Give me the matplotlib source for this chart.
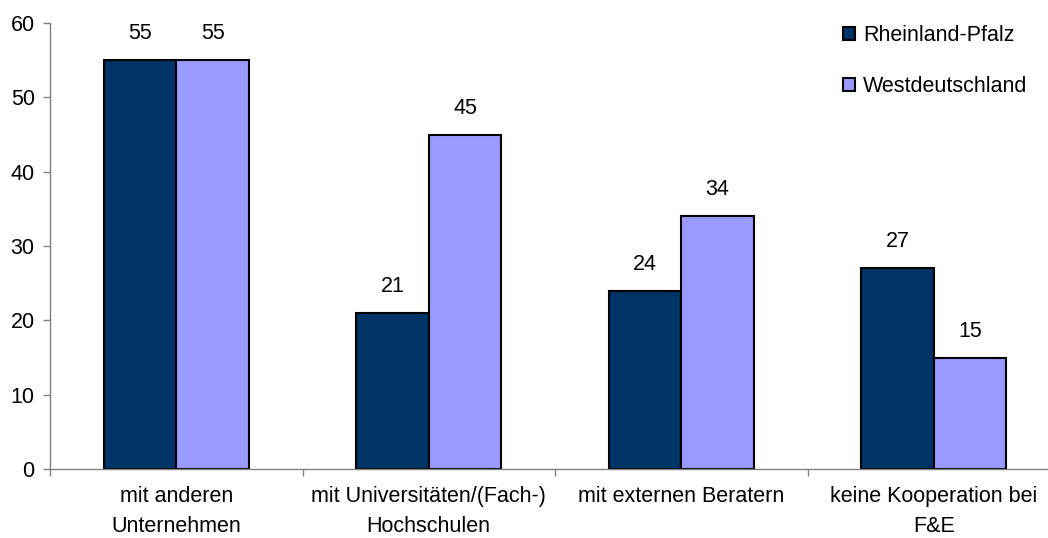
import matplotlib
matplotlib.use("Agg")
import matplotlib.pyplot as plt
import numpy as np
from matplotlib.patches import Patch

categories = ["mit anderen\nUnternehmen", "mit Universitäten/(Fach-)\nHochschulen",
              "mit externen Beratern", "keine Kooperation bei\nF&E"]
series_names = ["Rheinland-Pfalz", "Westdeutschland"]
rlp = [55, 21, 24, 27]
west = [55, 45, 34, 15]
yticks = [0, 10, 20, 30, 40, 50, 60]
colors = ["#003366", "#9999FF"]

plt.rcParams['font.family'] = ['Liberation Sans', 'DejaVu Sans']
FS = 15.5
W, H = 1048, 538
fig = plt.figure(figsize=(W / 100, H / 100), dpi=100)
left, right, bottom, top = 50, 1060, 538 - 469, 538 - 23
ax = fig.add_axes([left / W, bottom / H, (right - left) / W, (top - bottom) / H])

x = np.arange(len(categories))
bw = 0.288
b1 = ax.bar(x - bw / 2, rlp, bw, color=colors[0], edgecolor="black", linewidth=1.5)
b2 = ax.bar(x + bw / 2, west, bw, color=colors[1], edgecolor="black", linewidth=1.5)

for bars, vals in ((b1, rlp), (b2, west)):
    for r, v in zip(bars, vals):
        ax.annotate(f"{v}", (r.get_x() + r.get_width() / 2, v), xytext=(0, 19),
                    textcoords="offset points", ha="center", va="center", fontsize=FS)

ax.set_xlim(-0.5, len(categories) - 0.5)
ax.set_ylim(0, 60)
ax.set_yticks(yticks)
ax.set_xticks(x)
ax.set_xticklabels(categories, fontsize=FS, linespacing=1.6)
ax.set_xticks(np.arange(-0.5, len(categories)), minor=True)
ax.tick_params(axis="x", which="major", length=0, pad=12)
ax.tick_params(axis="x", which="minor", length=5, color="#808080", width=1)
ax.tick_params(axis="y", length=5, color="#808080", width=1, labelsize=FS, pad=6)
for s in ("top", "right"):
    ax.spines[s].set_visible(False)
for s in ("left", "bottom"):
    ax.spines[s].set_color("#808080")
    ax.spines[s].set_linewidth(1)

handles = [Patch(facecolor=c, edgecolor="black", linewidth=1.5) for c in colors]
fig.legend(handles, series_names, loc="upper left", bbox_to_anchor=(832 / W, 1 - 14 / H),
           frameon=False, fontsize=FS, handlelength=0.55, handleheight=0.55,
           handletextpad=0.4, labelspacing=1.4, borderpad=0)

fig.savefig("out.png", dpi=100)
